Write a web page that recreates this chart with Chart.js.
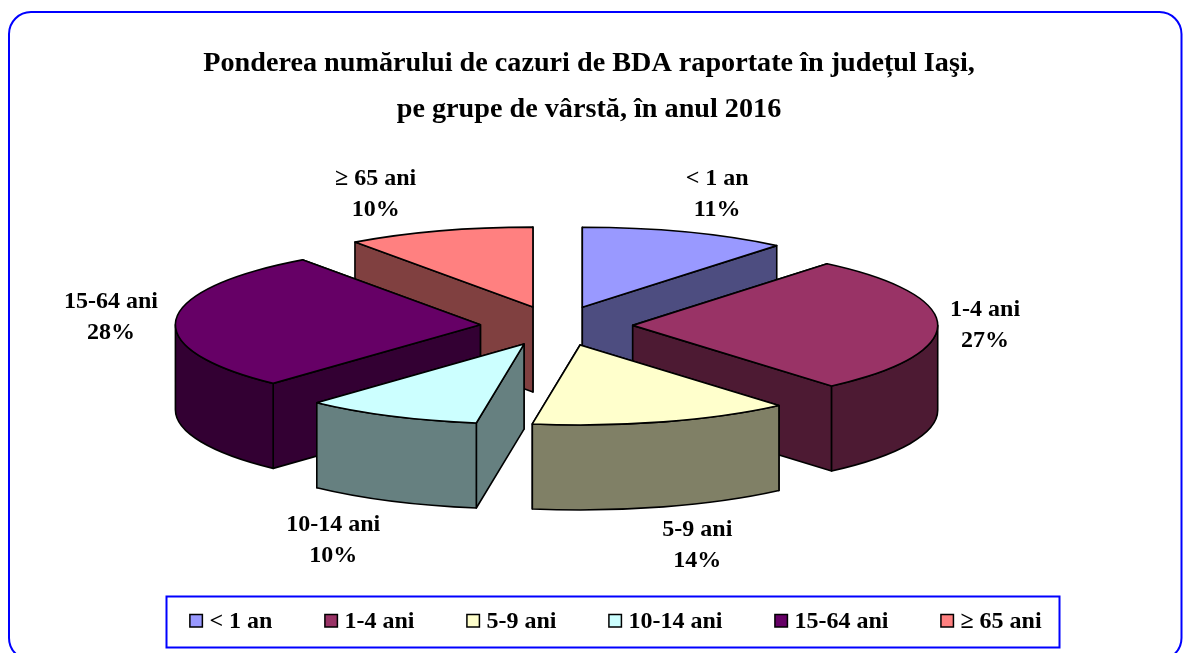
<!DOCTYPE html>
<html><head><meta charset="utf-8">
<style>html,body{margin:0;padding:0;background:#fff;overflow:hidden}canvas{display:block}</style>
<script src="https://cdn.jsdelivr.net/npm/chart.js@4"></script>
</head><body><canvas id="c" width="1183" height="653"></canvas>
<script>
const categories = ['< 1 an','1-4 ani','5-9 ani','10-14 ani','15-64 ani','≥ 65 ani'];
const shares = [11,27,14,10,28,10];
const topColors = ['#9999FF','#993366','#FFFFCC','#CCFFFF','#660066','#FF8080'];
const sideColors = ['#4D4D80','#4D1A33','#808066','#668080','#330033','#804040'];
const titleLines = ['Ponderea numărului de cazuri de BDA raportate în județul Iaşi,','pe grupe de vârstă, în anul 2016'];
const drawOrder = [5,0,4,1,3,2];
const labelNudge = [[31.5,-38],[47.5,2],[23,124],[-61,124],[-65,-2],[-63,-37]];
// small correction of each slice's closing edge, as the tilted 3-D projection of the original bends it
const edgeBendDeg = [0,2.5,1.8,-0.4,0.3,0];
const FONT = '"Liberation Serif","Times New Roman",serif';
const view = {cx:556.5, cy:326, squash:0.262, depth:85, explode:0.25, radius:305};
const frame = {l:9, t:12, r:1181.5, b:660, rad:22};
const legendFrame = {l:166.5, t:596.5, r:1059.5, b:647.5, shift:27, boxY:614.5, box:12.5, textY:622, textGap:19.5};
const rad = d => d*Math.PI/180;

const pie3d = {
  id:'pie3d',
  beforeDraw(chart){
    const c = chart.ctx;
    c.save();
    c.fillStyle='#fff'; c.fillRect(0,0,chart.width,chart.height);
    c.strokeStyle='#0000FF'; c.lineWidth=2;
    c.beginPath(); c.roundRect(frame.l,frame.t,frame.r-frame.l,frame.b-frame.t,frame.rad); c.stroke();
    c.strokeRect(legendFrame.l,legendFrame.t,legendFrame.r-legendFrame.l,legendFrame.b-legendFrame.t);
    c.restore();
  },
  beforeDatasetsDraw(chart){
    const c = chart.ctx, arcs = chart.getDatasetMeta(0).data;
    c.save();
    c.lineWidth=1.6; c.strokeStyle='#000'; c.lineJoin='round';
    const geom = (a,i) => {
      const p = a.getProps(['startAngle','endAngle','outerRadius'],true);
      const mid = (p.startAngle+p.endAngle)/2, rx=p.outerRadius, ry=rx*view.squash;
      const s = p.startAngle + (i>0 ? rad(edgeBendDeg[i-1]) : 0), e = p.endAngle + rad(edgeBendDeg[i]);
      return {s,e,mid,rx,ry,
        x:view.cx+Math.cos(mid)*rx*view.explode, y:view.cy+Math.sin(mid)*ry*view.explode};
    };
    const d = view.depth;
    for(const i of drawOrder){
      const g = geom(arcs[i],i);
      const pt = a=>[g.x+g.rx*Math.cos(a), g.y+g.ry*Math.sin(a)];
      const face = a => {
        const q=pt(a);
        c.beginPath(); c.moveTo(g.x,g.y); c.lineTo(q[0],q[1]); c.lineTo(q[0],q[1]+d); c.lineTo(g.x,g.y+d); c.closePath();
        c.fillStyle=sideColors[i]; c.fill(); c.stroke();
      };
      const edges = pt(g.s)[1] < pt(g.e)[1] ? [g.s,g.e] : [g.e,g.s];
      edges.forEach(face);
      const a0=Math.max(g.s,0), a1=Math.min(g.e,Math.PI);
      if(a0<a1){
        c.beginPath();
        c.ellipse(g.x,g.y,g.rx,g.ry,0,a0,a1,false);
        c.ellipse(g.x,g.y+d,g.rx,g.ry,0,a1,a0,true);
        c.closePath();
        c.fillStyle=sideColors[i]; c.fill(); c.stroke();
      }
      c.beginPath(); c.moveTo(g.x,g.y);
      c.ellipse(g.x,g.y,g.rx,g.ry,0,g.s,g.e,false);
      c.closePath();
      c.fillStyle=topColors[i]; c.fill(); c.stroke();
    }
    c.fillStyle='#000'; c.textAlign='center'; c.textBaseline='middle';
    c.font='bold 24px '+FONT;
    arcs.forEach((a,i)=>{
      const g=geom(a,i);
      const x=g.x+g.rx*Math.cos(g.mid)+labelNudge[i][0];
      const y=g.y+g.ry*Math.sin(g.mid)+labelNudge[i][1];
      c.fillText(categories[i],x,y-15.5);
      c.fillText(shares[i]+'%',x,y+15.5);
    });
    c.restore();
    return false;
  },
  afterDraw(chart){
    const c=chart.ctx, lg=chart.legend;
    c.save();
    c.lineWidth=1.5; c.strokeStyle='#000';
    c.font='bold 24px '+FONT; c.textAlign='left'; c.textBaseline='middle';
    lg.legendHitBoxes.forEach((h,i)=>{
      const x=h.left+legendFrame.shift, y=legendFrame.boxY;
      c.fillStyle=topColors[i];
      c.fillRect(x,y,legendFrame.box,legendFrame.box); c.strokeRect(x,y,legendFrame.box,legendFrame.box);
      c.fillStyle='#000';
      c.fillText(categories[i],x+legendFrame.textGap,legendFrame.textY);
    });
    c.restore();
  }
};

new Chart(document.getElementById('c'),{
  type:'pie',
  data:{labels:categories,datasets:[{data:shares,backgroundColor:topColors,borderColor:'#000',borderWidth:1}]},
  options:{
    responsive:false, animation:false, radius:view.radius,
    layout:{padding:{right:5}},
    plugins:{
      tooltip:{enabled:false},
      title:{display:true,text:titleLines,color:'#000',font:{family:FONT,size:28.2,weight:'bold',lineHeight:1.62},padding:{top:41,bottom:10}},
      legend:{position:'bottom',labels:{boxWidth:8,boxHeight:8,padding:52,font:{family:FONT,size:24,weight:'bold'},
        generateLabels(chart){return categories.map((t,i)=>({text:t,fontColor:'rgba(0,0,0,0)',fillStyle:'rgba(0,0,0,0)',strokeStyle:'rgba(0,0,0,0)',lineWidth:0,index:i}));}}}
    }
  },
  plugins:[pie3d]
});
</script></body></html>
